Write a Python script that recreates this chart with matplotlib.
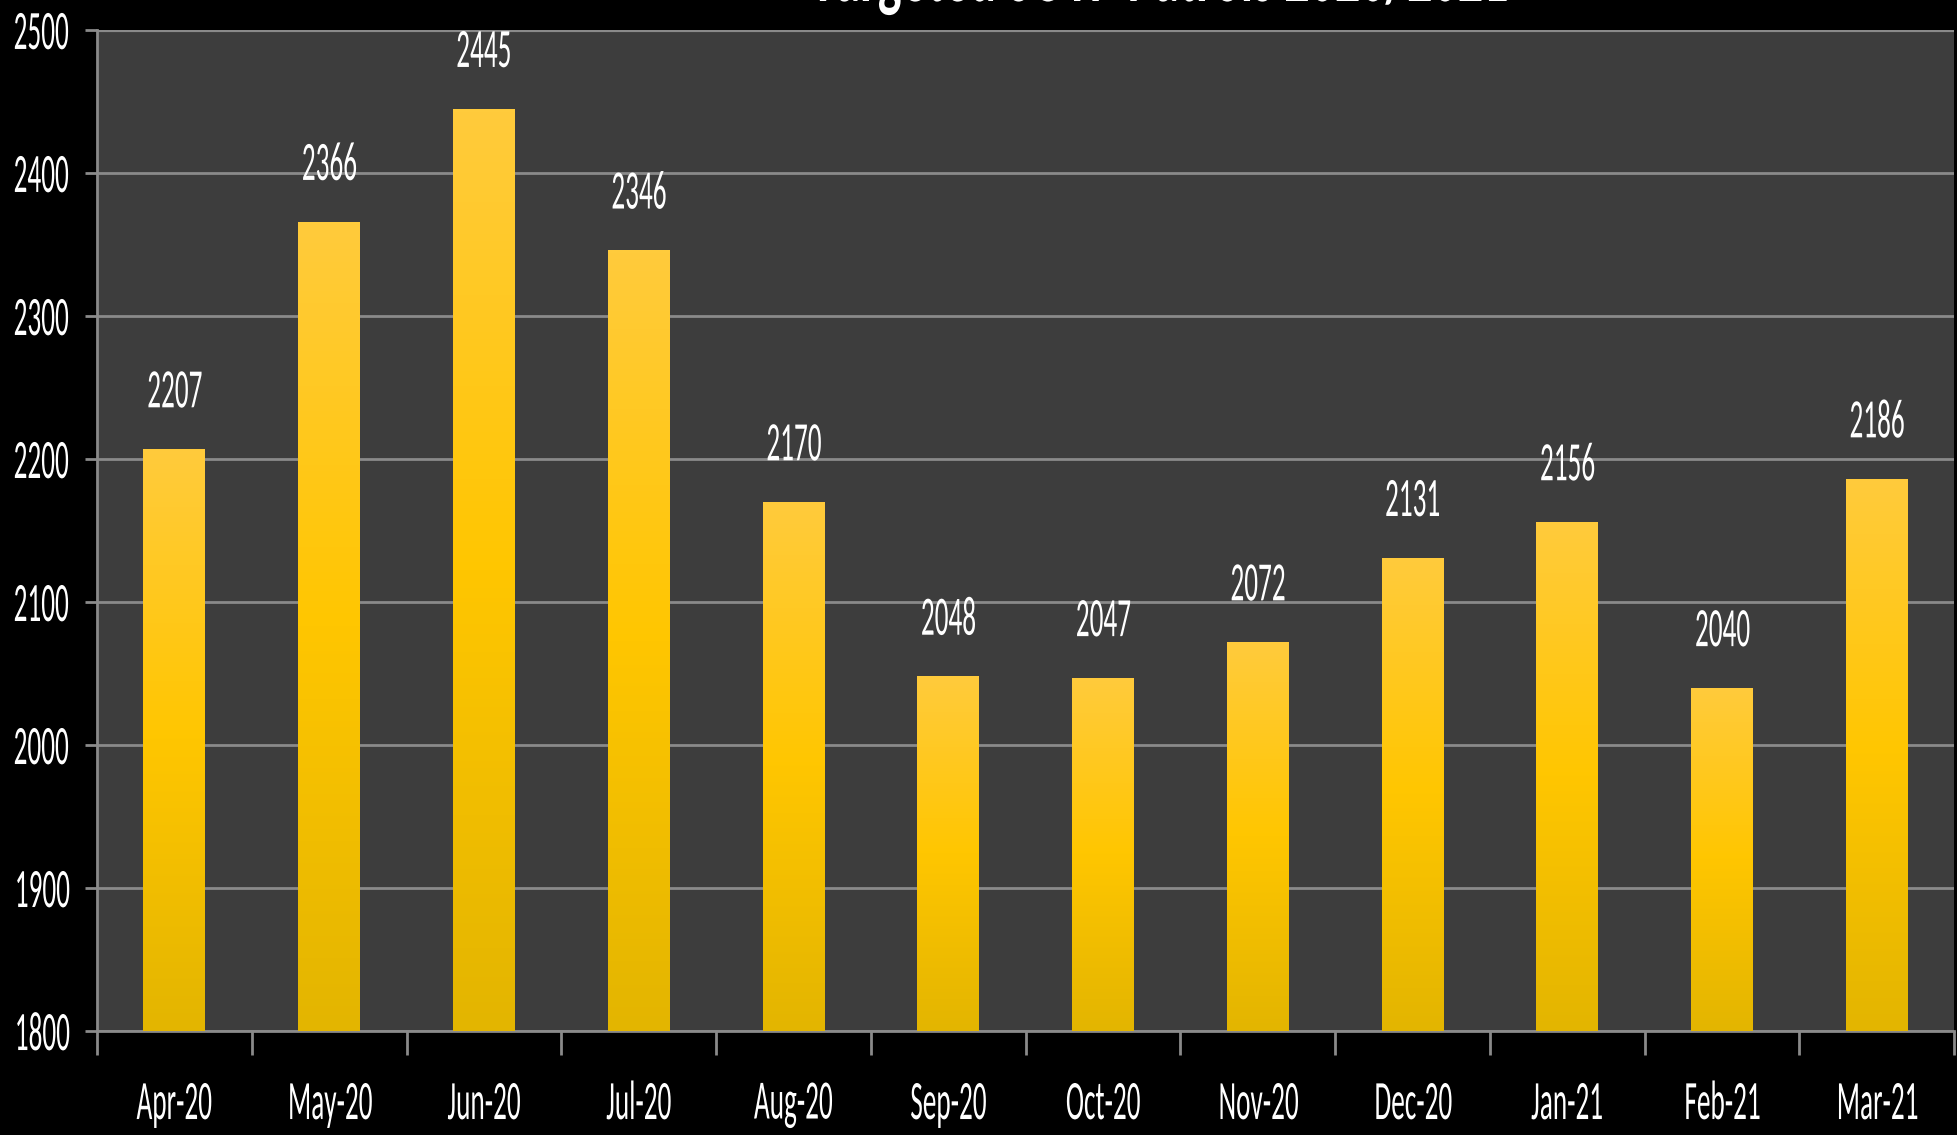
"""Monthly patrol counts, Apr-20 to Mar-21, as gradient bars on a dark panel."""

import matplotlib.pyplot as plt
import numpy as np
from matplotlib.colors import LinearSegmentedColormap
from matplotlib.patheffects import AbstractPathEffect
from matplotlib.transforms import Affine2D

plt.rcParams["font.family"] = ["Carlito", "DejaVu Sans"]

months = ["Apr-20", "May-20", "Jun-20", "Jul-20", "Aug-20", "Sep-20",
          "Oct-20", "Nov-20", "Dec-20", "Jan-21", "Feb-21", "Mar-21"]
patrols = [2207, 2366, 2445, 2346, 2170, 2048, 2047, 2072, 2131, 2156, 2040, 2186]
y_ticks = [1800, 1900, 2000, 2100, 2200, 2300, 2400, 2500]
title = "Targeted SOTP Patrols 2020/2021"

BG = "#000000"
PANEL = "#3d3d3d"
GRID = "#8a8a8a"
bar_cmap = LinearSegmentedColormap.from_list(
    "gold", ["#e3b500", "#ffc600", "#ffcb3c"])


class Squeeze(AbstractPathEffect):
    """Draw text horizontally compressed (the source uses a squashed Calibri)."""

    def __init__(self, sx=0.49, anchor="center"):
        super().__init__()
        self.sx = sx
        self.anchor = anchor

    def draw_path(self, renderer, gc, tpath, affine, rgbFace=None):
        ext = tpath.get_extents()
        if self.anchor == "left":
            cx = ext.x0
        elif self.anchor == "right":
            cx = ext.x1
        else:
            cx = (ext.x0 + ext.x1) / 2
        squeeze = Affine2D().translate(-cx, 0).scale(self.sx, 1).translate(cx, 0)
        renderer.draw_path(gc, tpath, squeeze + affine, rgbFace)


fig = plt.figure(figsize=(19.57, 11.35), dpi=100, facecolor=BG)
ax = fig.add_axes([0.0496, 0.0916, 0.949, 0.882])
ax.set_facecolor(PANEL)

x = np.arange(len(months))
bars = ax.bar(x, patrols, width=0.4, color="#ffc600", zorder=3)

# vertical gradient inside each bar
grad = np.linspace(0, 1, 256).reshape(-1, 1)
for rect in bars:
    x0, y0 = rect.get_x(), rect.get_y()
    w, h = rect.get_width(), rect.get_height()
    img = ax.imshow(grad, cmap=bar_cmap, aspect="auto", origin="lower",
                    extent=[x0, x0 + w, 1800, y0 + h], zorder=4)
    img.set_clip_path(rect)

for xi, val in zip(x, patrols):
    ax.annotate(str(val), (xi, val), xytext=(0, 30), textcoords="offset points",
                ha="center", va="baseline", color="white", fontsize=40,
                path_effects=[Squeeze()], zorder=5)

ax.set_ylim(1800, 2500)
ax.set_xlim(-0.5, len(months) - 0.5)
ax.set_yticks(y_ticks)
ax.set_yticklabels([str(t) for t in y_ticks], color="white", fontsize=40,
                   ha="left")
ax.yaxis.grid(True, color=GRID, linewidth=2, zorder=1)
# left-anchored labels so the squeezed glyphs start where the source's do
ax.tick_params(axis="y", length=9, width=2, color=GRID, pad=52)
for lbl in ax.get_yticklabels():
    lbl.set_path_effects([Squeeze(anchor="left")])

# category labels centered, ticks on the boundaries
ax.set_xticks(x)
ax.set_xticklabels(months, color="white", fontsize=40)
ax.tick_params(axis="x", length=0, pad=36)
for lbl in ax.get_xticklabels():
    lbl.set_path_effects([Squeeze()])
ax.set_xticks(np.arange(-0.5, len(months)), minor=True)
ax.tick_params(axis="x", which="minor", length=17, width=2, color=GRID)

for side in ["top", "right"]:
    ax.spines[side].set_visible(False)
ax.spines["left"].set_color(GRID)
ax.spines["left"].set_linewidth(2)
ax.spines["bottom"].set_color(GRID)
ax.spines["bottom"].set_linewidth(2)
ax.axhline(2500, color=GRID, linewidth=3, zorder=2)

fig.text(0.593, 1 - 1 / 1135, title, ha="center", va="baseline",
         color="white", fontsize=60, fontweight="bold",
         path_effects=[Squeeze(sx=0.6)])

fig.savefig("out.png", dpi=100, facecolor=BG)
